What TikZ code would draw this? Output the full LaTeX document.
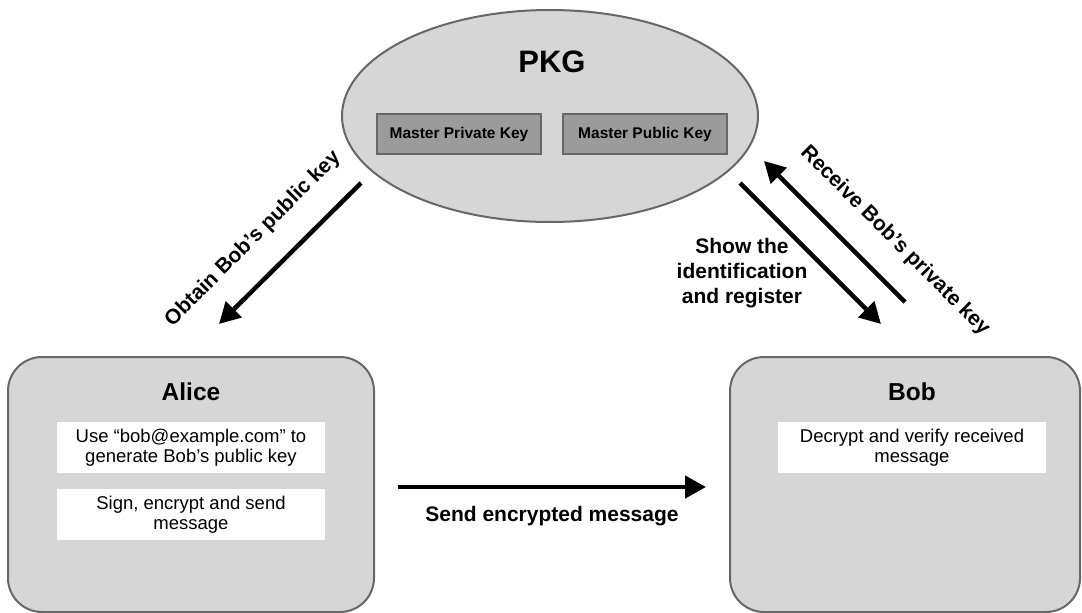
\documentclass[tikz,border=0pt]{standalone}
\usepackage{fontspec}
\setmainfont{Liberation Sans}
\usetikzlibrary{arrows.meta,shapes.geometric}
\definecolor{panel}{HTML}{D6D6D6}
\definecolor{edge}{HTML}{676767}
\definecolor{keyfill}{HTML}{9B9B9B}
\begin{document}
\begin{tikzpicture}[x=1pt,y=-1pt,
  panelbox/.style={draw=edge,line width=2pt,fill=panel,rounded corners=34pt},
  keybox/.style={draw=edge,line width=2pt,fill=keyfill,minimum width=164pt,minimum height=40pt,inner sep=0pt,font=\fontsize{15.5}{18}\selectfont\bfseries},
  whitebox/.style={fill=white,minimum width=268pt,minimum height=51pt,inner sep=0pt,align=center,font=\fontsize{18.5}{20.5}\selectfont},
  title/.style={font=\fontsize{24.5}{28}\selectfont\bfseries},
  lbl/.style={font=\fontsize{21}{25}\selectfont\bfseries,align=center},
  arr/.style={line width=4.5pt,-{Triangle[length=21pt,width=22pt]}}]
\useasboundingbox (0,0) rectangle (1082,613);
\clip (0,0) rectangle (1082,613);
% PKG ellipse
\node[ellipse,draw=edge,line width=2pt,fill=panel,minimum width=416pt,minimum height=212pt,inner sep=0pt] (pkg) at (550,116) {};
\node[font=\fontsize{31}{34}\selectfont\bfseries] (pkgt) at (552,62) {PKG};
\node[keybox] (mpriv) at (459,134) {Master Private Key};
\node[keybox] (mpub) at (645,134) {Master Public Key};
% Alice
\draw[panelbox] (8,357) rectangle (374,612);
\node[title] (alice) at (191,392) {Alice};
\node[whitebox] (a1) at (191,447.5) {Use “bob@example.com” to\\generate Bob’s public key};
\node[whitebox] (a2) at (191,514.5) {Sign, encrypt and send\\message};
% Bob
\draw[panelbox] (730,357) rectangle (1080,612);
\node[title] (bob) at (912,392) {Bob};
\node[whitebox] (b1) at (912,447.5) {Decrypt and verify received\\message};
% coordinates for arrows
\coordinate (s1) at (398,487);
\coordinate (e1) at (706,487);
\coordinate (s2) at (361,183);
\coordinate (e2) at (219,324);
\coordinate (s3) at (740,183);
\coordinate (e3) at (881,324);
\coordinate (s4) at (905,302);
\coordinate (e4) at (764,161);
\draw[arr] (s1) -- (e1) node[midway,below=14pt,lbl] (sendl) {Send encrypted message};
\draw[arr] (s2) -- (e2);
\node[lbl,rotate=45] (obt) at (253,239) {Obtain Bob’s public key};
\draw[arr] (s3) -- (e3);
\node[lbl] (show) at (742,273) {Show the\\identification\\and register};
\draw[arr] (s4) -- (e4);
\node[lbl,rotate=-45] (recv) at (895,241) {Receive Bob’s private key};
\end{tikzpicture}
\end{document}
